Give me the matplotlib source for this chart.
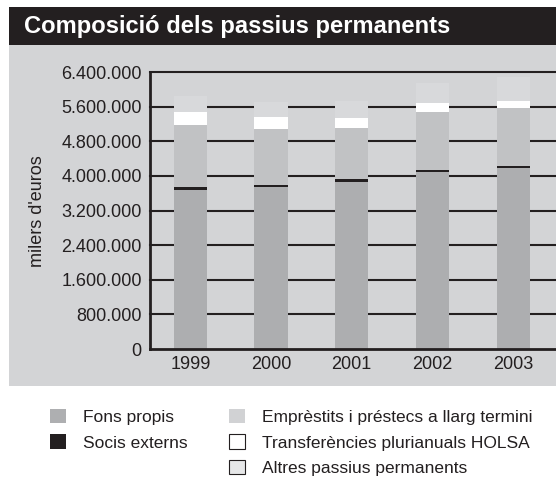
import matplotlib
matplotlib.use('Agg')
from matplotlib import pyplot as plt
from matplotlib.patches import Patch, Rectangle

plt.rcParams['font.family'] = ['Liberation Sans', 'DejaVu Sans']

years = ['1999', '2000', '2001', '2002', '2003']
# milers d'euros
fons_propis = [3680000, 3750000, 3860000, 4090000, 4190000]
socis_externs = [60000, 40000, 70000, 45000, 45000]
emprestits = [1440000, 1300000, 1180000, 1345000, 1340000]
holsa = [300000, 280000, 230000, 195000, 160000]
altres = [355000, 330000, 395000, 465000, 540000]

yticks = [0, 800000, 1600000, 2400000, 3200000, 4000000, 4800000, 5600000, 6400000]

dark = '#231f20'
panel = '#d3d4d6'

fig = plt.figure(figsize=(5.56, 4.82), dpi=100)

# title band and grey panel
fig.patches.append(Rectangle((0.016, 0.9066), 0.99, 0.079, transform=fig.transFigure,
                             facecolor=dark, edgecolor='none', zorder=-2))
fig.patches.append(Rectangle((0.016, 0.1985), 0.99, 0.7081, transform=fig.transFigure,
                             facecolor=panel, edgecolor='none', zorder=-2))
fig.text(0.044, 0.946, 'Composició dels passius permanents', color='white',
         fontsize=17.1, fontweight='bold', va='center', ha='left')

ax = fig.add_axes([0.2698, 0.2759, 0.7284, 0.5747])
ax.patch.set_alpha(0)

for t in yticks[1:]:
    ax.axhline(t, color=dark, lw=1.5, zorder=0.5, clip_on=False)

x = range(len(years))
w = 0.41
segments = [
    (fons_propis, '#adaeb0'),
    (socis_externs, dark),
    (emprestits, '#c1c2c4'),
    (holsa, 'white'),
    (altres, '#d8d9db'),
]
bottom = [0] * len(years)
for vals, col in segments:
    ax.bar(x, vals, w, bottom=bottom, color=col, edgecolor='none', zorder=2)
    bottom = [b + v for b, v in zip(bottom, vals)]

ax.set_xlim(-0.5, 4.52)
ax.set_ylim(0, 6400000)
ax.set_xticks(list(x))
ax.set_xticklabels(years)
ax.set_yticks(yticks)
ax.set_yticklabels([f'{v:,}'.replace(',', '.') for v in yticks])
ax.tick_params(axis='both', length=0, labelsize=13, colors=dark)
ax.tick_params(axis='y', pad=6)
ax.tick_params(axis='x', pad=5)
for s in ['top', 'right']:
    ax.spines[s].set_visible(False)
for s in ['left', 'bottom']:
    ax.spines[s].set_color(dark)
    ax.spines[s].set_linewidth(2)
    ax.spines[s].set_zorder(3)

fig.text(0.0674, 0.561, "milers d'euros", rotation=90, fontsize=13,
         color=dark, ha='center', va='center')

handles = [
    Patch(facecolor='#aeafb1', edgecolor='none', label='Fons propis'),
    Patch(facecolor=dark, edgecolor='none', label='Socis externs'),
    Patch(facecolor='none', edgecolor='none', label=' '),
    Patch(facecolor='#d1d2d4', edgecolor='none', label='Emprèstits i préstecs a llarg termini'),
    Patch(facecolor='white', edgecolor=dark, lw=0.8, label='Transferències plurianuals HOLSA'),
    Patch(facecolor='#e6e7e8', edgecolor=dark, lw=0.8, label='Altres passius permanents'),
]
fig.legend(handles=handles, ncol=2, loc='upper left', bbox_to_anchor=(0.09, 0.152),
           frameon=False, fontsize=12.5, handlelength=0.92, handleheight=0.92,
           handletextpad=0.98, columnspacing=2.36, labelspacing=0.53,
           borderpad=0, borderaxespad=0, labelcolor=dark)

fig.savefig('out.png', dpi=100)
